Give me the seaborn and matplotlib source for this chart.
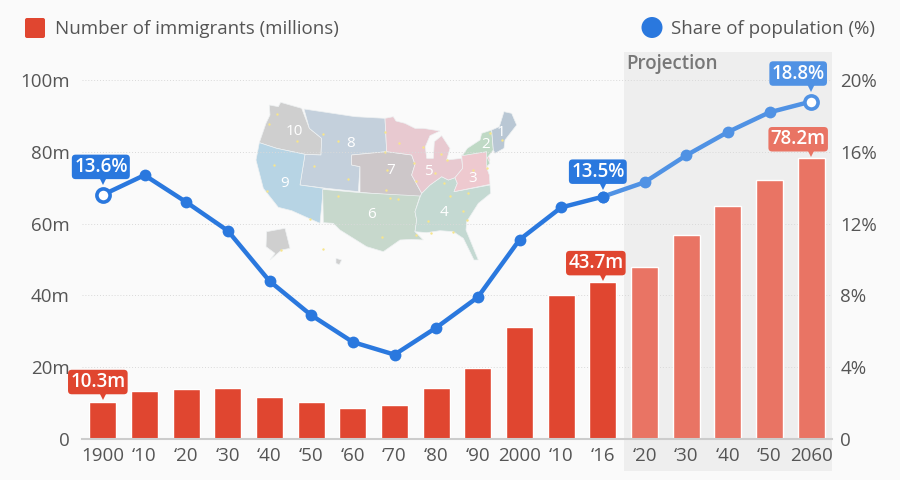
import numpy as np
import pandas as pd
import seaborn as sns
import matplotlib.pyplot as plt
from matplotlib.patches import Polygon, Rectangle, FancyBboxPatch, Circle
from matplotlib.transforms import offset_copy

years = [1900, 1910, 1920, 1930, 1940, 1950, 1960, 1970, 1980, 1990, 2000, 2010, 2016,
         2020, 2030, 2040, 2050, 2060]
tick_labels = ['1900', '‘10', '‘20', '‘30', '‘40', '‘50', '‘60', '‘70', '‘80', '‘90', '2000',
               '‘10', '‘16', '‘20', '‘30', '‘40', '‘50', '2060']
immigrants = [10.3, 13.5, 13.9, 14.2, 11.6, 10.3, 8.7, 9.6, 14.1, 19.8, 31.1, 40.0, 43.7,
              48.0, 56.8, 65.0, 72.1, 78.2]
share = [13.6, 14.7, 13.2, 11.6, 8.8, 6.9, 5.4, 4.7, 6.2, 7.9, 11.1, 12.9, 13.5,
         14.3, 15.8, 17.1, 18.2, 18.8]
periods = ['actual'] * 13 + ['projection'] * 5

RED = '#e04630'
RED_LIGHT = '#e97464'
BLUE = '#2a78de'
BLUE_LIGHT = '#5092e4'
TEXT = '#555555'
BG = '#fafafa'

# rough outline of the census regions, traced in zoomed crop coordinates
map_regions = {
    '10': ('#cfcfcf', [(88, 45), (115, 50), (122, 37), (185, 55), (208, 115), (245, 145), (243, 195), (195, 193),
                       (110, 175), (58, 158), (78, 100), (90, 75)]),
    '8': ('#c4d0dc', [(192, 57), (345, 80), (435, 85), (440, 185), (335, 195), (335, 225), (360, 230), (355, 305),
                      (260, 295), (180, 285), (195, 193), (243, 195), (245, 145), (208, 115)]),
    '9': ('#b7d4e4', [(58, 158), (110, 175), (195, 193), (180, 285), (250, 295), (240, 400), (155, 362),
                      (115, 352), (70, 295), (48, 210)]),
    '7': ('#cdc7c9', [(335, 195), (440, 185), (515, 195), (525, 223), (515, 255), (545, 310), (540, 322),
                      (360, 307), (360, 230), (335, 225)]),
    '6': ('#c7d8cc', [(248, 298), (360, 308), (540, 318), (525, 365), (530, 390), (525, 425), (550, 450),
                      (515, 448), (480, 450), (430, 485), (380, 470), (340, 445), (300, 420), (280, 400),
                      (250, 398)]),
    '4': ('#c4d9d2', [(545, 310), (570, 285), (605, 260), (625, 270), (645, 263), (652, 280), (642, 305), (750, 285),
                      (752, 310), (715, 340), (680, 395), (678, 420), (715, 510), (702, 510), (670, 445),
                      (640, 425), (600, 422), (560, 428), (525, 425), (530, 390), (525, 365), (540, 322)]),
    '5': ('#e8c9d0', [(435, 85), (460, 80), (468, 93), (495, 100), (525, 115), (550, 115), (600, 123), (570, 137),
                      (556, 170), (560, 205), (580, 205), (583, 155), (605, 137), (630, 175), (620, 210),
                      (665, 205), (668, 235), (645, 263), (625, 270), (605, 260), (570, 285), (545, 310),
                      (515, 255), (525, 223), (515, 195), (440, 185)]),
    '3': ('#eec9cf', [(665, 195), (740, 185), (750, 210), (740, 233), (748, 255), (750, 283), (642, 305), (652, 280),
                      (645, 263), (668, 235)]),
    '2': ('#bfd9c5', [(682, 175), (720, 150), (725, 130), (755, 120), (760, 180), (742, 203), (750, 220), (740, 230),
                      (740, 185), (667, 197)]),
    '1': ('#b9c7d4', [(755, 120), (778, 110), (792, 65), (815, 70), (830, 105), (795, 150), (792, 175), (765, 190),
                      (760, 180)]),
    'ak': ('#cfcfcf', [(80, 425), (135, 415), (150, 475), (125, 480), (90, 510), (105, 490), (78, 470)]),
    'hi': ('#cfcfcf', [(288, 505), (305, 510), (298, 524), (288, 520)]),
}
map_labels = {'10': (162, 124), '8': (332, 160), '9': (135, 280), '7': (452, 243), '6': (394, 375),
              '4': (612, 368), '5': (566, 245), '3': (698, 267), '2': (736, 163), '1': (782, 128)}
map_dots = [(110, 72), (88, 102), (170, 154), (248, 132), (295, 152), (436, 125), (478, 158), (550, 170),
            (436, 185), (522, 218), (603, 193), (620, 210), (750, 130), (785, 150), (222, 229), (103, 224),
            (82, 303), (325, 266), (440, 240), (438, 300), (528, 272), (585, 250), (612, 278), (295, 319),
            (450, 323), (475, 326), (630, 317), (685, 310), (670, 362), (680, 390), (565, 394), (573, 428),
            (640, 425), (527, 435), (425, 440), (209, 386), (124, 480), (250, 478), (698, 240), (740, 235)]

df = pd.DataFrame({'year': years, 'pos': np.arange(len(years)), 'immigrants': immigrants,
                   'share': share, 'period': periods})

sns.set_theme(style='white', rc={'figure.facecolor': BG, 'savefig.facecolor': BG})
plt.rcParams['font.family'] = ['Open Sans', 'DejaVu Sans']

fig = plt.figure(figsize=(9, 4.8), dpi=100)

# pixel canvas behind the chart, for the band, map and legend
canvas = fig.add_axes([0, 0, 1, 1], zorder=0)
canvas.set_xlim(0, 900)
canvas.set_ylim(480, 0)
canvas.axis('off')
canvas.add_patch(Rectangle((624, 52), 208, 419, color='#eeeeee', lw=0))
canvas.text(626, 64, 'Projection', fontsize=13.5, fontweight='semibold', color='#777777', va='center')


def mx(p):
    return (240 + p[0] / 3, 90 + p[1] / 3)


for name, (col, pts) in map_regions.items():
    canvas.add_patch(Polygon([mx(p) for p in pts], closed=True, fc=col, ec='#eef1f2', lw=0.5))
for name, p in map_labels.items():
    x, y = mx(p)
    canvas.text(x, y, name, color='white', fontsize=11, ha='center', va='center')
canvas.scatter(*zip(*[mx(p) for p in map_dots]), s=3, color='#f7e58c', lw=0)

canvas.add_patch(FancyBboxPatch((25, 18), 20, 20, boxstyle='round,pad=0,rounding_size=2', fc=RED, ec='none'))
canvas.text(55, 28.5, 'Number of immigrants (millions)', fontsize=13.5, color=TEXT, va='center')
canvas.add_patch(Circle((652, 27.5), 10.5, fc=BLUE, ec='none'))
canvas.text(671, 28.5, 'Share of population (%)', fontsize=13.5, color=TEXT, va='center')

# main axes: 82..832 px wide, 80..439 px tall
ax = fig.add_axes([82 / 900, 1 - 439 / 480, 750 / 900, 359 / 480], zorder=1)
ax.patch.set_alpha(0)
sns.barplot(data=df, x='year', y='immigrants', hue='period', ax=ax, dodge=False, width=0.65, legend=False,
            palette={'actual': RED, 'projection': RED_LIGHT}, saturation=1)
ax.set_xlim(-0.5, len(years) - 0.5)
ax.set_ylim(0, 100)
ax.set_xlabel('')
ax.set_ylabel('')
ax.set_yticks([0, 20, 40, 60, 80, 100], ['0', '20m', '40m', '60m', '80m', '100m'])
ax.set_xticks(df['pos'], tick_labels)
ax.tick_params(axis='both', length=0, labelsize=13.5, labelcolor=TEXT)
ax.tick_params(axis='x', pad=6)
ax.tick_params(axis='y', pad=9)
ax.grid(axis='y', color='#d9d9d9', lw=0.7, ls=(0, (1, 2)))
ax.set_axisbelow(True)
sns.despine(ax=ax, left=True, top=True, right=True)
ax.spines['bottom'].set_color('#cccccc')
ax.spines['bottom'].set_linewidth(1.5)

ax2 = ax.twinx()
ax2.set_zorder(2)
ax2.patch.set_alpha(0)
past = df[df['pos'] <= 12]
future = df[df['pos'] >= 12]
sns.lineplot(data=future, x='pos', y='share', ax=ax2, color=BLUE_LIGHT, lw=3.2, marker='o', ms=8.5, mew=0)
sns.lineplot(data=past, x='pos', y='share', ax=ax2, color=BLUE, lw=3.2, marker='o', ms=8.5, mew=0)
ends = df.iloc[[0, -1]]
sns.scatterplot(x=ends['pos'].iloc[:1], y=ends['share'].iloc[:1], ax=ax2, s=90, fc='white', ec=BLUE, lw=2.6, zorder=5)
sns.scatterplot(x=ends['pos'].iloc[1:], y=ends['share'].iloc[1:], ax=ax2, s=90, fc='white', ec=BLUE_LIGHT, lw=2.6, zorder=5)
ax2.set_ylim(0, 20)
ax2.set_xlim(-0.5, len(years) - 0.5)
ax2.set_xlabel('')
ax2.set_ylabel('')
ax2.set_yticks([0, 4, 8, 12, 16, 20], ['0', '4%', '8%', '12%', '16%', '20%'])
ax2.tick_params(axis='y', length=0, labelsize=13.5, labelcolor=TEXT, pad=6)
sns.despine(ax=ax2, left=True, top=True, right=True, bottom=True)


def tag(a, pos, val, label, color, dx, dy):
    # value pill with a little pointer under it, offsets in px from the mark
    a.annotate(label, xy=(pos, val), xytext=(dx, dy), textcoords='offset pixels', ha='center', va='center',
               color='white', fontsize=13.5, fontweight='semibold', zorder=8,
               bbox=dict(boxstyle='round,pad=0.12,rounding_size=0.2', fc=color, ec='none'))
    tr = offset_copy(a.transData, fig=fig, x=0, y=dy - 14, units='dots')
    a.plot([pos], [val], marker='v', ms=6, color=color, mew=0, transform=tr, zorder=7, clip_on=False)


tag(ax, 0, immigrants[0], '10.3m', RED, -5, 20)
tag(ax, 12, immigrants[12], '43.7m', RED, -7, 19)
tag(ax, 17, immigrants[17], '78.2m', RED_LIGHT, -13, 19)
tag(ax2, 0, share[0], '13.6%', BLUE, -2, 28)
tag(ax2, 12, share[12], '13.5%', BLUE, -5, 25)
tag(ax2, 17, share[17], '18.8%', BLUE_LIGHT, -13, 28)

plt.savefig('out.png', dpi=100)
